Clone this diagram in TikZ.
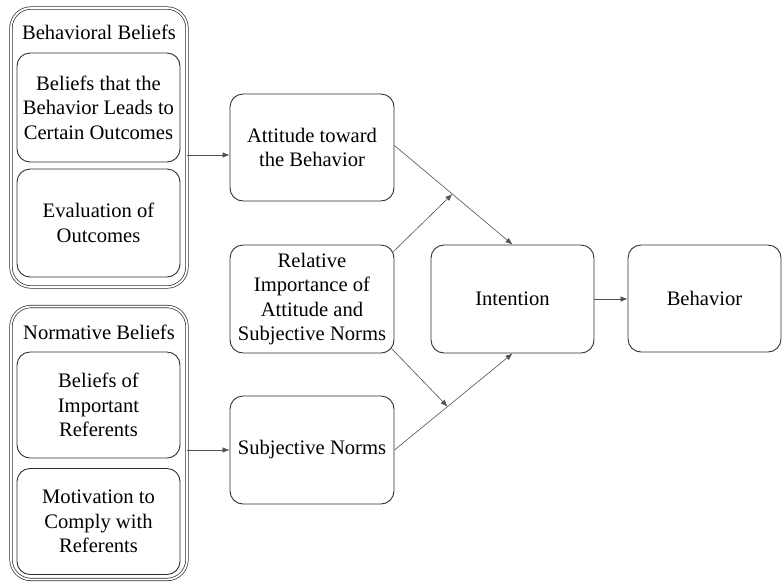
\documentclass[tikz,border=0pt]{standalone}
\usepackage{fontspec}
\setmainfont{Liberation Serif}
\newfontfamily\labelfont{Liberation Serif}
\usetikzlibrary{arrows.meta}
\definecolor{edge}{HTML}{2E2E2E}
\definecolor{wire}{HTML}{505050}
\begin{document}
\begin{tikzpicture}[x=1pt,y=-1pt,
  every node/.style={font=\labelfont\fontsize{20.6}{24.5}\selectfont, text=black, align=center, inner sep=0pt},
  box/.style={draw=edge, line width=0.9pt, rounded corners=13pt},
  group/.style={draw=edge, line width=0.7pt, double=white, double distance=1.8pt, rounded corners=20pt},
  arr/.style={draw=wire, line width=0.6pt, -{Latex[length=7pt,width=5.5pt]}}]
\useasboundingbox (0,0) rectangle (783,582);

% belief groups on the left
\node[group, minimum width=176pt, minimum height=279pt] (bb) at (99,147.5) {};
\node (bbt) at (99,32) {Behavioral Beliefs};
\node[box, minimum width=163pt, minimum height=109pt] (bb1) at (98.5,107.5) {Beliefs that the\\Behavior Leads to\\Certain Outcomes};
\node[box, minimum width=163pt, minimum height=108pt] (bb2) at (98.5,223) {Evaluation of\\Outcomes};

\node[group, minimum width=176pt, minimum height=273pt] (nb) at (99,443) {};
\node (nbt) at (99,332) {Normative Beliefs};
\node[box, minimum width=163pt, minimum height=106pt] (nb1) at (98.5,405) {Beliefs of\\Important\\Referents};
\node[box, minimum width=163pt, minimum height=106pt] (nb2) at (98.5,521.5) {Motivation to\\Comply with\\Referents};

% middle column
\node[box, minimum width=164pt, minimum height=107pt] (att) at (312,147.5) {Attitude toward\\the Behavior};
\node[box, minimum width=164pt, minimum height=108pt] (rel) at (312,299) {Relative\\Importance of\\Attitude and\\Subjective Norms};
\node[box, minimum width=164pt, minimum height=108pt] (sn) at (312,450) {Subjective Norms};

% right column
\node[box, minimum width=163pt, minimum height=108pt] (int) at (512.5,299) {Intention};
\node[box, minimum width=153pt, minimum height=107pt] (beh) at (704.5,298.5) {Behavior};

% connectors
\draw[arr] (bb.east |- 0,155) -- (att.west |- 0,155);
\draw[arr] (nb.east |- sn.west) -- (sn.west);
\draw[arr] ([yshift=2pt]att.east) -- coordinate[pos=0.49] (m1) (int.north);
\draw[arr] (sn.east) -- coordinate[pos=0.45] (m2) (int.south);
\draw[arr] ([xshift=-1pt,yshift=-7pt]rel.north east) -- (m1);
\draw[arr] ([xshift=-3pt,yshift=5pt]rel.south east) -- (m2);
\draw[arr] (int.east) -- (beh.west |- int.east);
\end{tikzpicture}
\end{document}
